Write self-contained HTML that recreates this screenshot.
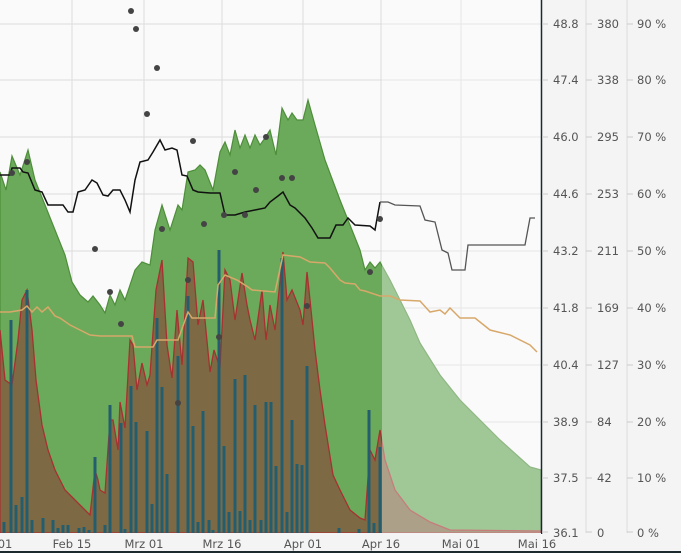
<!DOCTYPE html>
<html><head><meta charset="utf-8"><style>
html,body{margin:0;padding:0;background:#fafafa;}
svg{display:block;font-family:"DejaVu Sans","Liberation Sans",sans-serif;}
</style></head><body>
<svg width="681" height="553" viewBox="0 0 681 553">
<rect x="0" y="0" width="681" height="553" fill="#fafafa"/>
<rect x="542" y="0" width="139" height="553" fill="#f4f4f4"/>
<g stroke="#dcdcdc" stroke-width="1">
<line x1="0" y1="24" x2="541" y2="24"/><line x1="0" y1="80" x2="541" y2="80"/>
<line x1="0" y1="137" x2="541" y2="137"/><line x1="0" y1="194" x2="541" y2="194"/>
<line x1="0" y1="251" x2="541" y2="251"/><line x1="0" y1="308" x2="541" y2="308"/>
<line x1="0" y1="365" x2="541" y2="365"/><line x1="0" y1="422" x2="541" y2="422"/>
<line x1="0" y1="478" x2="541" y2="478"/>
<line x1="72" y1="0" x2="72" y2="533"/><line x1="144" y1="0" x2="144" y2="533"/>
<line x1="222" y1="0" x2="222" y2="533"/><line x1="303" y1="0" x2="303" y2="533"/>
<line x1="381" y1="0" x2="381" y2="533"/><line x1="461" y1="0" x2="461" y2="533"/>
<line x1="586" y1="0" x2="586" y2="533"/><line x1="627" y1="0" x2="627" y2="533"/>
</g>
<!-- green area -->
<path d="M0,172 L6,190 L12,156 L20,175 L28,150 L35,180 L45,205 L55,230 L65,255 L72,282 L80,295 L88,302 L93,296 L100,305 L105,313 L110,295 L115,305 L120,290 L125,300 L135,270 L142,262 L150,265 L155,230 L162,205 L170,230 L178,205 L182,210 L188,172 L195,170 L200,165 L205,170 L213,190 L220,152 L225,142 L230,155 L235,130 L240,148 L245,135 L250,148 L255,135 L260,145 L265,138 L270,130 L276,155 L282,108 L288,120 L292,113 L297,120 L303,120 L308,100 L315,125 L325,160 L340,200 L350,225 L360,250 L365,270 L370,262 L375,268 L380,262 L390,280 L400,300 L410,320 L420,343 L440,375 L460,400 L480,420 L500,440 L520,458 L530,467 L541,470 L541,533 L0,533 Z" fill="#6aaa5a" stroke="#4e8e3a" stroke-width="1.2"/>
<!-- brown area -->
<path d="M0,330 L5,380 L12,385 L18,340 L22,300 L27,290 L32,330 L36,380 L42,425 L48,450 L55,470 L65,490 L75,500 L85,510 L90,515 L95,470 L98,480 L100,490 L105,493 L110,420 L113,420 L118,450 L120,402 L125,428 L130,340 L133,345 L137,390 L142,363 L147,385 L150,375 L156,290 L162,260 L167,345 L172,378 L177,310 L182,365 L188,258 L193,262 L198,325 L203,300 L210,372 L214,350 L220,368 L225,270 L230,280 L235,320 L242,273 L247,305 L250,320 L255,340 L262,290 L266,340 L270,305 L275,330 L283,252 L287,300 L292,290 L300,310 L303,325 L307,272 L310,300 L315,350 L320,390 L325,425 L333,475 L340,490 L350,510 L360,518 L365,520 L370,450 L375,460 L380,430 L385,460 L395,490 L410,510 L430,522 L450,530 L541,531 L541,533 L0,533 Z" fill="#7d6a45" stroke="#a83030" stroke-width="1.3"/>
<!-- bars -->
<g stroke="#245e6e" stroke-width="3">
<line x1="4" y1="533" x2="4" y2="522"/><line x1="11" y1="533" x2="11" y2="320"/><line x1="16" y1="533" x2="16" y2="505"/><line x1="22" y1="533" x2="22" y2="497"/><line x1="27" y1="533" x2="27" y2="290"/><line x1="32" y1="533" x2="32" y2="520"/><line x1="43" y1="533" x2="43" y2="518"/><line x1="53" y1="533" x2="53" y2="520"/><line x1="58" y1="533" x2="58" y2="528"/><line x1="63" y1="533" x2="63" y2="525"/><line x1="68" y1="533" x2="68" y2="525"/><line x1="79" y1="533" x2="79" y2="528"/><line x1="84" y1="533" x2="84" y2="527"/><line x1="89" y1="533" x2="89" y2="530"/><line x1="95" y1="533" x2="95" y2="457"/><line x1="105" y1="533" x2="105" y2="525"/><line x1="110" y1="533" x2="110" y2="405"/><line x1="121" y1="533" x2="121" y2="423"/><line x1="125" y1="533" x2="125" y2="529"/><line x1="131" y1="533" x2="131" y2="386"/><line x1="136" y1="533" x2="136" y2="422"/><line x1="147" y1="533" x2="147" y2="431"/><line x1="152" y1="533" x2="152" y2="504"/><line x1="157" y1="533" x2="157" y2="318"/><line x1="162" y1="533" x2="162" y2="387"/><line x1="167" y1="533" x2="167" y2="474"/><line x1="178" y1="533" x2="178" y2="356"/><line x1="188" y1="533" x2="188" y2="296"/><line x1="193" y1="533" x2="193" y2="426"/><line x1="198" y1="533" x2="198" y2="522"/><line x1="203" y1="533" x2="203" y2="411"/><line x1="209" y1="533" x2="209" y2="520"/><line x1="213" y1="533" x2="213" y2="530"/><line x1="219" y1="533" x2="219" y2="250"/><line x1="224" y1="533" x2="224" y2="446"/><line x1="229" y1="533" x2="229" y2="512"/><line x1="235" y1="533" x2="235" y2="379"/><line x1="240" y1="533" x2="240" y2="511"/><line x1="245" y1="533" x2="245" y2="375"/><line x1="250" y1="533" x2="250" y2="520"/><line x1="255" y1="533" x2="255" y2="405"/><line x1="261" y1="533" x2="261" y2="520"/><line x1="266" y1="533" x2="266" y2="402"/><line x1="271" y1="533" x2="271" y2="402"/><line x1="276" y1="533" x2="276" y2="466"/><line x1="282" y1="533" x2="282" y2="258"/><line x1="287" y1="533" x2="287" y2="512"/><line x1="292" y1="533" x2="292" y2="420"/><line x1="297" y1="533" x2="297" y2="464"/><line x1="302" y1="533" x2="302" y2="465"/><line x1="307" y1="533" x2="307" y2="366"/><line x1="339" y1="533" x2="339" y2="528"/><line x1="359" y1="533" x2="359" y2="529"/><line x1="369" y1="533" x2="369" y2="410"/><line x1="374" y1="533" x2="374" y2="523"/><line x1="380" y1="533" x2="380" y2="447"/>
</g>
<!-- future overlay -->
<rect x="382" y="0" width="159" height="533" fill="#fafafa" opacity="0.38"/>
<!-- tan line -->
<polyline fill="none" stroke="#d8a86a" stroke-width="1.5" points="0,312 10,312 22,310 27,306 32,312 37,307 42,312 48,307 55,316 60,318 70,325 80,330 90,335 100,336 132,336 135,347 153,347 157,340 178,340 188,312 192,318 215,318 218,285 225,275 237,280 248,287 252,290 275,292 283,255 300,257 310,262 325,263 330,268 340,280 345,283 355,284 360,290 365,291 380,296 390,296 400,300 420,301 430,312 440,310 445,314 450,308 460,318 475,318 490,330 510,335 530,345 537,352"/>
<!-- black line -->
<polyline fill="none" stroke="#111" stroke-width="1.5" points="0,175 10,175 12,168 20,168 23,172 28,173 35,190 42,192 48,205 63,205 68,212 73,212 78,192 85,190 92,180 97,183 103,195 108,196 113,190 120,190 125,200 130,212 135,180 140,162 148,160 153,152 160,140 165,150 172,148 177,150 182,175 187,176 193,190 198,192 210,193 220,193 225,215 235,215 245,212 255,210 265,208 270,202 278,196 283,192 290,205 295,208 305,218 312,228 318,238 330,238 336,225 343,225 348,218 355,225 370,226 375,230 380,202"/>
<polyline fill="none" stroke="#555" stroke-width="1.3" points="380,202 388,202 395,205 420,206 425,220 435,222 442,250 448,253 452,270 465,270 468,245 525,245 530,218 535,218"/>
<!-- dots -->
<g fill="#444">
<circle cx="131" cy="11" r="3"/><circle cx="136" cy="29" r="3"/><circle cx="157" cy="68" r="3"/><circle cx="147" cy="114" r="3"/><circle cx="146" cy="114" r="0"/><circle cx="162" cy="229" r="3"/><circle cx="95" cy="249" r="3"/><circle cx="27" cy="162" r="3"/><circle cx="12" cy="173" r="3"/><circle cx="110" cy="292" r="3"/><circle cx="121" cy="324" r="3"/><circle cx="193" cy="141" r="3"/><circle cx="235" cy="172" r="3"/><circle cx="204" cy="224" r="3"/><circle cx="224" cy="215" r="3"/><circle cx="245" cy="215" r="3"/><circle cx="256" cy="190" r="3"/><circle cx="282" cy="178" r="3"/><circle cx="292" cy="178" r="3"/><circle cx="266" cy="137" r="3"/><circle cx="188" cy="280" r="3"/><circle cx="178" cy="403" r="3"/><circle cx="219" cy="337" r="3"/><circle cx="307" cy="306" r="3"/><circle cx="370" cy="272" r="3"/><circle cx="380" cy="219" r="3"/>
</g>
<!-- axis lines -->
<line x1="541.5" y1="0" x2="541.5" y2="534" stroke="#1c2a30" stroke-width="1.5"/>
<rect x="0" y="533" width="541" height="20" fill="#f4f4f4"/>
<line x1="0" y1="552" x2="681" y2="552" stroke="#1c2a30" stroke-width="2"/>
<g stroke="#ccc"><line x1="542" y1="24" x2="548" y2="24"/><line x1="542" y1="80" x2="548" y2="80"/><line x1="542" y1="137" x2="548" y2="137"/><line x1="542" y1="194" x2="548" y2="194"/><line x1="542" y1="251" x2="548" y2="251"/><line x1="542" y1="308" x2="548" y2="308"/><line x1="542" y1="365" x2="548" y2="365"/><line x1="542" y1="422" x2="548" y2="422"/><line x1="542" y1="478" x2="548" y2="478"/><line x1="542" y1="532" x2="548" y2="532"/>
<line x1="586" y1="24" x2="592" y2="24"/><line x1="586" y1="80" x2="592" y2="80"/><line x1="586" y1="137" x2="592" y2="137"/><line x1="586" y1="194" x2="592" y2="194"/><line x1="586" y1="251" x2="592" y2="251"/><line x1="586" y1="308" x2="592" y2="308"/><line x1="586" y1="365" x2="592" y2="365"/><line x1="586" y1="422" x2="592" y2="422"/><line x1="586" y1="478" x2="592" y2="478"/><line x1="586" y1="532" x2="592" y2="532"/>
<line x1="627" y1="24" x2="633" y2="24"/><line x1="627" y1="80" x2="633" y2="80"/><line x1="627" y1="137" x2="633" y2="137"/><line x1="627" y1="194" x2="633" y2="194"/><line x1="627" y1="251" x2="633" y2="251"/><line x1="627" y1="308" x2="633" y2="308"/><line x1="627" y1="365" x2="633" y2="365"/><line x1="627" y1="422" x2="633" y2="422"/><line x1="627" y1="478" x2="633" y2="478"/><line x1="627" y1="532" x2="633" y2="532"/></g>
<g font-size="11.5" fill="#555">
<g text-anchor="start">
<text x="553" y="28">48.8</text><text x="553" y="84">47.4</text><text x="553" y="141">46.0</text><text x="553" y="198">44.6</text><text x="553" y="255">43.2</text><text x="553" y="312">41.8</text><text x="553" y="369">40.4</text><text x="553" y="426">38.9</text><text x="553" y="482">37.5</text><text x="553" y="537">36.1</text>
<text x="597" y="28">380</text><text x="597" y="84">338</text><text x="597" y="141">295</text><text x="597" y="198">253</text><text x="597" y="255">211</text><text x="597" y="312">169</text><text x="597" y="369">127</text><text x="597" y="426">84</text><text x="597" y="482">42</text><text x="597" y="537">0</text>
<text x="637" y="28">90 %</text><text x="637" y="84">80 %</text><text x="637" y="141">70 %</text><text x="637" y="198">60 %</text><text x="637" y="255">50 %</text><text x="637" y="312">40 %</text><text x="637" y="369">30 %</text><text x="637" y="426">20 %</text><text x="637" y="482">10 %</text><text x="637" y="537">0 %</text>
</g>
<g text-anchor="middle">
<text x="5" y="548">01</text><text x="72" y="548">Feb 15</text><text x="144" y="548">Mrz 01</text><text x="222" y="548">Mrz 16</text><text x="303" y="548">Apr 01</text><text x="381" y="548">Apr 16</text><text x="461" y="548">Mai 01</text><text x="537" y="548">Mai 16</text>
</g>
</g>
</svg>
</body></html>
